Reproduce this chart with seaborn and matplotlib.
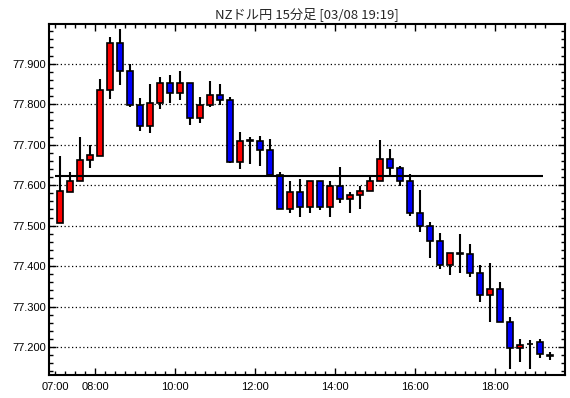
import numpy as np
import pandas as pd
import matplotlib
matplotlib.use("Agg")
import matplotlib.pyplot as plt
import seaborn as sns
from matplotlib.ticker import MultipleLocator, FixedLocator

# ------------------------------------------------------------
# data: NZD/JPY 15-minute candles, 07:00 - 19:15
# ------------------------------------------------------------
times = pd.date_range("2024-03-08 07:00", periods=50, freq="15min")

opens = [77.507, 77.584, 77.610, 77.662, 77.673, 77.835, 77.952, 77.882, 77.797, 77.745,
         77.802, 77.852, 77.827, 77.852, 77.767, 77.797, 77.822, 77.810, 77.657, 77.710,
         77.710, 77.687, 77.624, 77.540, 77.582, 77.545, 77.610, 77.547, 77.597, 77.565,
         77.575, 77.585, 77.610, 77.665, 77.643, 77.611, 77.531, 77.499, 77.462, 77.402,
         77.431, 77.430, 77.383, 77.328, 77.343, 77.263, 77.198, 77.208, 77.212, 77.181]
closes = [77.585, 77.610, 77.662, 77.675, 77.836, 77.952, 77.882, 77.797, 77.745, 77.802,
          77.852, 77.827, 77.852, 77.767, 77.799, 77.822, 77.810, 77.657, 77.710, 77.710,
          77.687, 77.624, 77.540, 77.582, 77.545, 77.610, 77.547, 77.597, 77.565, 77.575,
          77.585, 77.610, 77.665, 77.643, 77.611, 77.531, 77.499, 77.462, 77.402, 77.432,
          77.431, 77.384, 77.328, 77.343, 77.263, 77.198, 77.206, 77.208, 77.182, 77.177]
highs = [77.673, 77.633, 77.718, 77.700, 77.861, 77.966, 77.986, 77.900, 77.816, 77.851,
         77.867, 77.871, 77.883, 77.852, 77.818, 77.856, 77.851, 77.817, 77.731, 77.718,
         77.721, 77.713, 77.633, 77.611, 77.616, 77.610, 77.610, 77.610, 77.646, 77.582,
         77.597, 77.626, 77.712, 77.690, 77.648, 77.628, 77.588, 77.509, 77.482, 77.432,
         77.479, 77.455, 77.402, 77.408, 77.360, 77.274, 77.221, 77.218, 77.221, 77.187]
lows = [77.507, 77.584, 77.610, 77.642, 77.672, 77.812, 77.847, 77.792, 77.733, 77.728,
        77.788, 77.804, 77.811, 77.749, 77.754, 77.792, 77.797, 77.654, 77.639, 77.652,
        77.647, 77.621, 77.540, 77.532, 77.522, 77.532, 77.539, 77.522, 77.557, 77.532,
        77.542, 77.585, 77.610, 77.626, 77.598, 77.523, 77.484, 77.420, 77.394, 77.377,
        77.384, 77.374, 77.312, 77.261, 77.261, 77.147, 77.162, 77.147, 77.174, 77.167]

ref_level = 77.623
title = "NZドル円 15分足 [03/08 19:19]"
label_times = ["07:00", "08:00", "10:00", "12:00", "14:00", "16:00", "18:00"]

# ------------------------------------------------------------
# build frame, x in minutes since 07:00 (candle centered in its slot)
# ------------------------------------------------------------
df = pd.DataFrame({"time": times, "open": opens, "close": closes,
                   "high": highs, "low": lows})
t0 = times[0]
df["x"] = (df["time"] - t0).dt.total_seconds() / 60 + 7.5
df["up"] = df["close"] >= df["open"]

sns.set_style("ticks")
plt.rcParams["font.family"] = ["Liberation Sans", "Noto Sans CJK JP", "DejaVu Sans"]

fig = plt.figure(figsize=(5.7, 3.98), dpi=100)
ax = fig.add_axes([49 / 570, 1 - 375 / 398, 516 / 570, 351 / 398])

# dotted grid
ax.yaxis.grid(True, which="major", color="black", linestyle=(0, (1, 2)), linewidth=0.9)
ax.set_axisbelow(True)

# wicks
ax.vlines(df["x"], df["low"], df["high"], color="black", linewidth=1.5, zorder=2)

# bodies
colors = np.where(df["up"], "#ff0000", "#0000ff")
bottoms = np.minimum(df["open"], df["close"])
heights = np.maximum(np.abs(df["close"] - df["open"]), 0.0008)
ax.bar(df["x"], heights, bottom=bottoms, width=9, color=colors,
       edgecolor="black", linewidth=1.2, zorder=3)

# reference line
ax.hlines(ref_level, 0, 732, color="black", linewidth=1.5, zorder=4)

# axes
ax.set_xlim(-9.5, 764.5)
ax.set_ylim(77.131, 77.998)
ax.yaxis.set_major_locator(MultipleLocator(0.1))
ax.yaxis.set_minor_locator(MultipleLocator(0.02))
ax.yaxis.set_major_formatter(matplotlib.ticker.FormatStrFormatter("%.3f"))

label_pos = [(pd.Timestamp("2024-03-08 " + s) - t0).total_seconds() / 60 for s in label_times]
ax.xaxis.set_major_locator(FixedLocator(label_pos))
ax.set_xticklabels(label_times)
ax.xaxis.set_minor_locator(FixedLocator(np.arange(0, 736, 15)))

ax.tick_params(which="both", direction="in", top=True, right=True,
               colors="black", labelsize=8, width=1)
ax.tick_params(which="major", length=5)
ax.tick_params(which="minor", length=3)
ax.tick_params(axis="x", pad=5)
ax.tick_params(axis="y", pad=2)
ax.xaxis.get_major_ticks()[0].tick1line.set_markersize(3)
ax.xaxis.get_major_ticks()[0].tick2line.set_markersize(3)

for sp in ax.spines.values():
    sp.set_color("black")
    sp.set_linewidth(1.5)

ax.set_title(title, fontsize=9.5, pad=4, family=["Noto Sans CJK JP", "DejaVu Sans"])

fig.savefig("out.png", dpi=100)
